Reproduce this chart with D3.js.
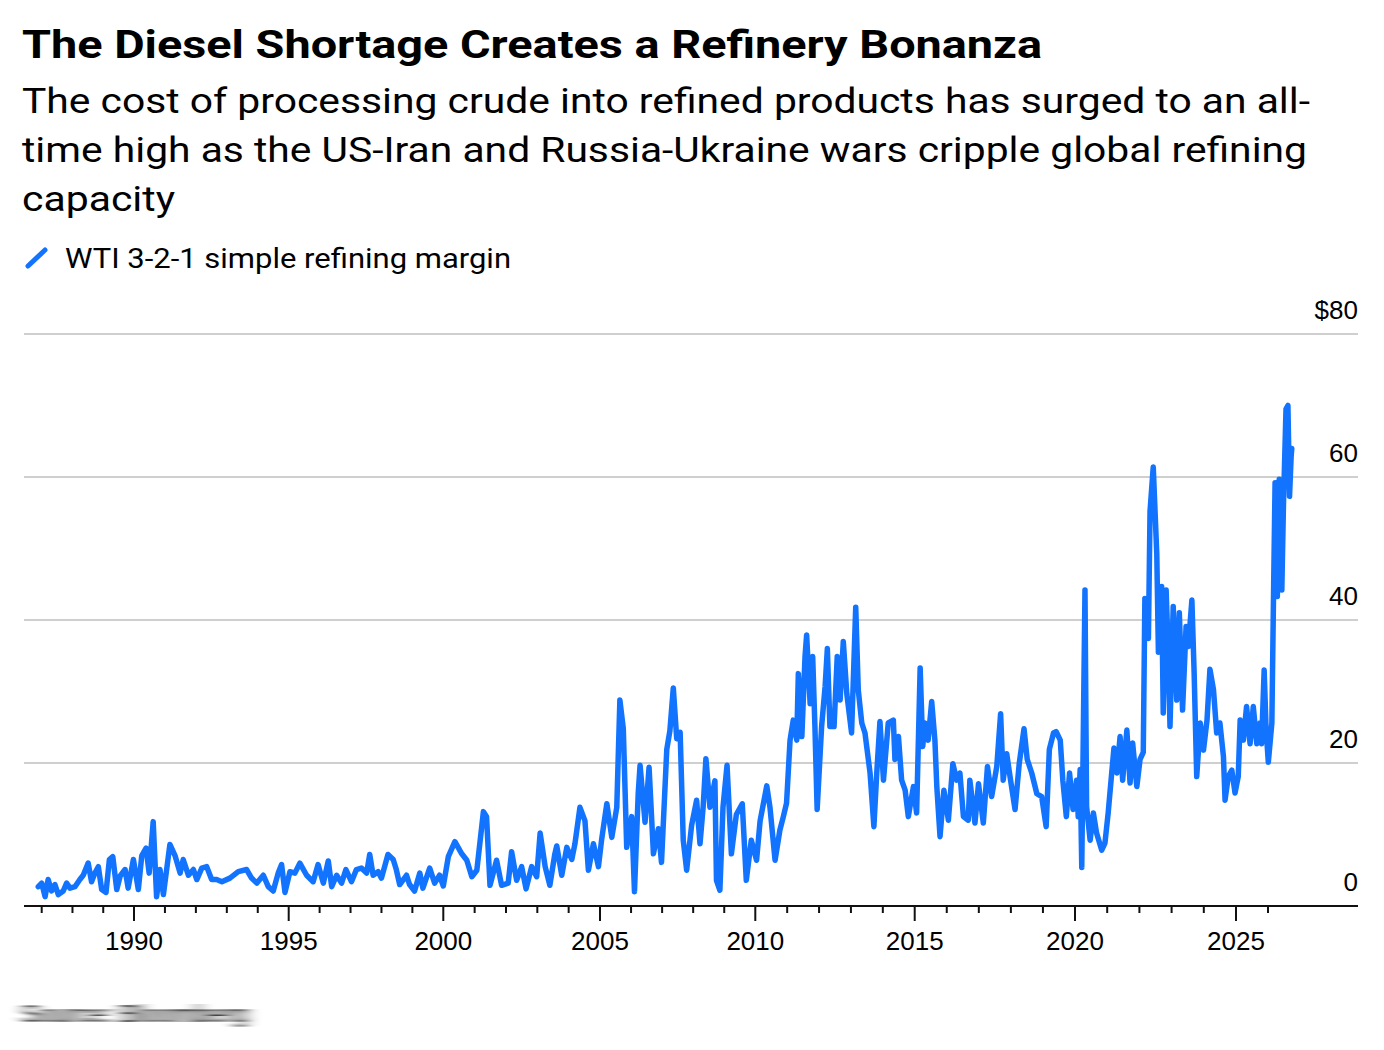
<!DOCTYPE html>
<html>
<head>
<meta charset="utf-8">
<script src="https://cdn.jsdelivr.net/npm/d3@7"></script>
<style>
  html, body { margin: 0; padding: 0; background: #fff; }
  svg { display: block; }
  text { font-family: "Liberation Sans", Arial, Helvetica, sans-serif; fill: #000; }
  text.hdr { font-family: Roboto, "Liberation Sans", Arial, sans-serif; }
</style>
</head>
<body>
<svg id="chart" width="1384" height="1050"></svg>
<script>
// ---- Data ----
const title = "The Diesel Shortage Creates a Refinery Bonanza";
const subtitleLines = [
  "The cost of processing crude into refined products has surged to an all-",
  "time high as the US-Iran and Russia-Ukraine wars cripple global refining",
  "capacity"
];
const seriesName = "WTI 3-2-1 simple refining margin";
const sourceText = "Source: Bloomberg";

const years = [
  1986.89,1987.00,1987.11,1987.21,1987.32,1987.43,1987.54,1987.70,1987.81,1987.92,
  1988.08,1988.24,1988.35,1988.51,1988.62,1988.73,1988.84,1988.95,1989.09,1989.20,
  1989.31,1989.44,1989.55,1989.71,1989.81,1989.98,1990.14,1990.25,1990.39,1990.49,
  1990.62,1990.73,1990.84,1990.95,1991.16,1991.33,1991.49,1991.59,1991.76,1991.92,
  1992.03,1992.19,1992.35,1992.51,1992.67,1992.84,1993.10,1993.37,1993.64,1993.80,
  1993.97,1994.18,1994.34,1994.50,1994.66,1994.77,1994.88,1995.04,1995.20,1995.36,
  1995.58,1995.79,1995.95,1996.12,1996.28,1996.39,1996.55,1996.71,1996.85,1997.03,
  1997.19,1997.35,1997.52,1997.62,1997.73,1997.89,1998.00,1998.21,1998.38,1998.48,
  1998.59,1998.81,1998.91,1999.07,1999.24,1999.34,1999.56,1999.72,1999.88,2000.00,
  2000.16,2000.37,2000.59,2000.75,2000.91,2001.07,2001.28,2001.38,2001.49,2001.70,
  2001.86,2002.07,2002.18,2002.34,2002.50,2002.64,2002.82,2002.98,2003.09,2003.25,
  2003.40,2003.56,2003.62,2003.78,2003.94,2004.10,2004.20,2004.36,2004.52,2004.63,
  2004.79,2004.95,2005.05,2005.22,2005.38,2005.54,2005.64,2005.75,2005.86,2006.02,
  2006.11,2006.23,2006.29,2006.45,2006.58,2006.72,2006.88,2006.98,2007.15,2007.25,
  2007.36,2007.47,2007.58,2007.68,2007.79,2007.95,2008.11,2008.22,2008.32,2008.41,
  2008.54,2008.70,2008.75,2008.86,2008.96,2009.09,2009.23,2009.39,2009.58,2009.71,
  2009.87,2010.04,2010.15,2010.36,2010.46,2010.62,2010.77,2010.88,2010.98,2011.09,
  2011.19,2011.30,2011.35,2011.46,2011.56,2011.61,2011.72,2011.80,2011.87,2011.94,
  2012.08,2012.19,2012.26,2012.34,2012.47,2012.57,2012.66,2012.76,2012.87,2013.02,
  2013.15,2013.23,2013.34,2013.44,2013.60,2013.72,2013.81,2013.91,2014.02,2014.17,
  2014.33,2014.38,2014.49,2014.59,2014.70,2014.80,2014.96,2015.06,2015.17,2015.25,
  2015.32,2015.42,2015.53,2015.63,2015.69,2015.79,2015.91,2016.05,2016.19,2016.31,
  2016.41,2016.52,2016.67,2016.72,2016.88,2016.99,2017.14,2017.27,2017.40,2017.56,
  2017.68,2017.76,2017.87,2017.99,2018.13,2018.26,2018.41,2018.51,2018.65,2018.81,
  2018.96,2019.10,2019.20,2019.33,2019.41,2019.54,2019.62,2019.73,2019.83,2019.94,
  2020.05,2020.10,2020.16,2020.21,2020.31,2020.36,2020.47,2020.57,2020.67,2020.83,
  2020.93,2021.03,2021.14,2021.21,2021.30,2021.40,2021.48,2021.61,2021.71,2021.79,
  2021.92,2022.02,2022.12,2022.17,2022.28,2022.33,2022.43,2022.54,2022.59,2022.69,
  2022.74,2022.83,2022.90,2022.95,2023.05,2023.16,2023.24,2023.34,2023.45,2023.52,
  2023.63,2023.70,2023.78,2023.89,2023.99,2024.10,2024.19,2024.30,2024.40,2024.50,
  2024.61,2024.66,2024.76,2024.87,2024.97,2025.07,2025.13,2025.23,2025.33,2025.44,
  2025.54,2025.65,2025.75,2025.80,2025.88,2025.94,2026.01,2026.12,2026.17,2026.22,
  2026.29,2026.35,2026.43,2026.48,2026.56,2026.62,2026.67,2026.72,2026.74
];

const margin = [
  2.7,3.2,1.3,3.7,2.1,3.0,1.6,2.1,3.2,2.5,
  2.7,3.7,4.3,6.0,3.4,4.6,5.5,2.3,1.9,6.5,
  6.9,2.3,4.2,5.1,2.5,6.5,2.3,7.0,8.1,4.6,
  11.8,1.3,5.1,1.6,8.6,7.0,4.6,6.5,4.3,5.1,
  3.7,5.3,5.5,3.7,3.7,3.4,3.9,4.8,5.1,3.9,
  3.2,4.3,2.7,2.1,4.6,5.8,1.9,4.8,4.6,6.0,
  4.3,3.4,5.8,3.2,6.3,2.7,4.3,3.2,5.1,3.4,
  5.1,5.3,4.6,7.2,4.3,4.8,3.9,7.2,6.5,5.1,
  3.0,4.3,3.0,2.1,4.6,2.5,5.3,3.2,4.3,2.8,
  6.9,9.0,7.3,6.4,4.1,5.0,13.2,12.5,2.9,6.4,
  2.9,3.2,7.6,3.6,5.5,2.4,5.5,4.1,10.2,5.5,
  2.9,7.3,8.4,4.3,8.2,6.5,8.7,13.8,11.9,5.0,
  8.7,5.5,9.2,14.3,9.6,13.8,28.8,24.8,8.2,12.5,
  2.0,15.7,19.7,11.7,19.4,7.3,10.8,6.1,21.9,24.5,
  30.5,23.4,24.3,9.2,5.0,11.3,14.8,8.7,13.8,20.6,
  13.8,17.5,3.6,2.2,13.8,19.7,7.3,12.8,14.3,3.6,
  9.2,6.4,11.9,16.8,13.8,6.4,10.6,12.5,14.4,23.2,
  26.0,23.2,32.5,23.7,34.9,37.9,28.3,34.9,25.1,13.5,
  25.1,30.7,36.0,25.1,25.1,34.9,28.8,37.0,29.7,24.2,
  41.8,30.2,25.6,24.2,18.6,11.1,18.6,25.8,17.6,25.6,
  26.0,20.5,23.7,17.6,16.2,12.5,16.7,13.0,33.3,22.3,
  25.6,23.2,28.6,23.2,16.7,9.7,16.2,12.0,19.9,17.6,
  18.6,12.5,12.0,17.6,11.6,17.1,11.6,19.5,15.3,19.5,
  26.9,17.6,21.3,17.6,13.5,19.9,24.8,20.5,18.6,15.7,
  15.3,11.1,21.9,24.2,24.4,23.2,17.6,12.5,18.6,13.5,
  17.6,12.5,19.1,5.4,44.2,13.9,9.2,13.0,10.2,7.8,
  8.8,13.0,18.6,22.1,18.6,23.7,17.6,24.6,17.2,22.8,
  16.7,20.5,21.5,43.0,37.4,55.2,61.4,49.2,35.5,44.7,
  27.0,44.2,35.0,25.1,41.9,28.8,41.0,27.4,39.1,36.3,
  42.8,32.6,18.1,25.6,21.8,26.0,33.1,30.3,24.2,25.6,
  20.9,14.8,18.1,19.0,15.8,18.1,26.0,23.2,27.9,22.7,
  27.9,22.7,25.6,22.7,33.0,24.7,20.1,25.6,42.8,59.2,
  43.3,59.7,44.2,55.9,69.5,70.0,57.3,62.9,64.0
];

const yTicks = [0, 20, 40, 60, 80];
const xMajorTicks = [1990, 1995, 2000, 2005, 2010, 2015, 2020, 2025];
const xMinorTicks = d3.range(1987, 2027);

// ---- Layout ----
const svg = d3.select("#chart");
const left = 24, right = 1358, yTop = 334, yBottom = 906;
const blue = "#1273ff";

// the reference time axis is very slightly non-uniform; follow it with a polylinear scale
const x = d3.scaleLinear()
  .domain([1986.43, 1987, 1990, 1995, 2000, 2005, 2010, 2015, 2020, 2025, 2026, 2028.8])
  .range([left, 41.7, 134, 288.7, 443.3, 600, 755.3, 914.7, 1075, 1236, 1268, right]);
const y = d3.scaleLinear().domain([0, 80]).range([yBottom, yTop]);

// ---- Header ----
svg.append("text").attr("class", "hdr").attr("x", 22).attr("y", 58)
  .attr("font-size", 38).attr("font-weight", "bold")
  .attr("textLength", 1020).attr("lengthAdjust", "spacingAndGlyphs")
  .text(title);

const subWidths = [1288, 1285, 153];
subtitleLines.forEach((line, i) => {
  svg.append("text").attr("class", "hdr").attr("x", 22).attr("y", 113 + i * 49)
    .attr("font-size", 35)
    .attr("textLength", subWidths[i]).attr("lengthAdjust", "spacingAndGlyphs")
    .text(line);
});

// legend
svg.append("line").attr("x1", 28).attr("y1", 266).attr("x2", 45).attr("y2", 250)
  .attr("stroke", blue).attr("stroke-width", 5).attr("stroke-linecap", "round");
svg.append("text").attr("class", "hdr").attr("x", 65).attr("y", 268)
  .attr("font-size", 27.5)
  .attr("textLength", 446).attr("lengthAdjust", "spacingAndGlyphs")
  .text(seriesName);

// ---- Grid & y labels ----
svg.append("g").selectAll("line").data(yTicks.filter(d => d > 0)).join("line")
  .attr("x1", left).attr("x2", right)
  .attr("y1", d => y(d)).attr("y2", d => y(d))
  .attr("stroke", "#cfcfcf").attr("stroke-width", 2);

svg.append("g").selectAll("text").data(yTicks).join("text")
  .attr("x", right).attr("y", d => y(d) - 15)
  .attr("text-anchor", "end").attr("font-size", 26)
  .text(d => d === 80 ? "$80" : d);

// ---- Line ----
const pts = years.map((yr, i) => [yr, margin[i]]);
svg.append("path").datum(pts)
  .attr("fill", "none").attr("stroke", blue).attr("stroke-width", 5.5)
  .attr("stroke-linejoin", "round").attr("stroke-linecap", "round")
  .attr("d", d3.line().x(d => x(d[0])).y(d => y(d[1])));

// ---- X axis ----
const gx = svg.append("g");
gx.append("line").attr("x1", left).attr("x2", right)
  .attr("y1", yBottom).attr("y2", yBottom)
  .attr("stroke", "#111").attr("stroke-width", 2);
gx.selectAll("line.minor").data(xMinorTicks.filter(d => !xMajorTicks.includes(d))).join("line")
  .attr("class", "minor")
  .attr("x1", d => x(d)).attr("x2", d => x(d))
  .attr("y1", yBottom).attr("y2", yBottom + 7)
  .attr("stroke", "#111").attr("stroke-width", 2);
gx.selectAll("line.major").data(xMajorTicks).join("line")
  .attr("class", "major")
  .attr("x1", d => x(d)).attr("x2", d => x(d))
  .attr("y1", yBottom).attr("y2", yBottom + 15)
  .attr("stroke", "#111").attr("stroke-width", 2);
gx.selectAll("text").data(xMajorTicks).join("text")
  .attr("x", d => x(d)).attr("y", 950)
  .attr("text-anchor", "middle").attr("font-size", 26)
  .text(d => d);

// ---- Source (blurred in reference) ----
const defs = svg.append("defs");
defs.append("filter").attr("id", "smear").attr("x", "-10%").attr("width", "120%")
  .append("feGaussianBlur").attr("stdDeviation", "7 0.5");
svg.append("text").attr("x", 22).attr("y", 1022)
  .attr("font-size", 23).attr("fill", "#d8d8d8")
  .attr("textLength", 226).attr("lengthAdjust", "spacingAndGlyphs")
  .attr("filter", "url(#smear)")
  .text(sourceText);
</script>
</body>
</html>
